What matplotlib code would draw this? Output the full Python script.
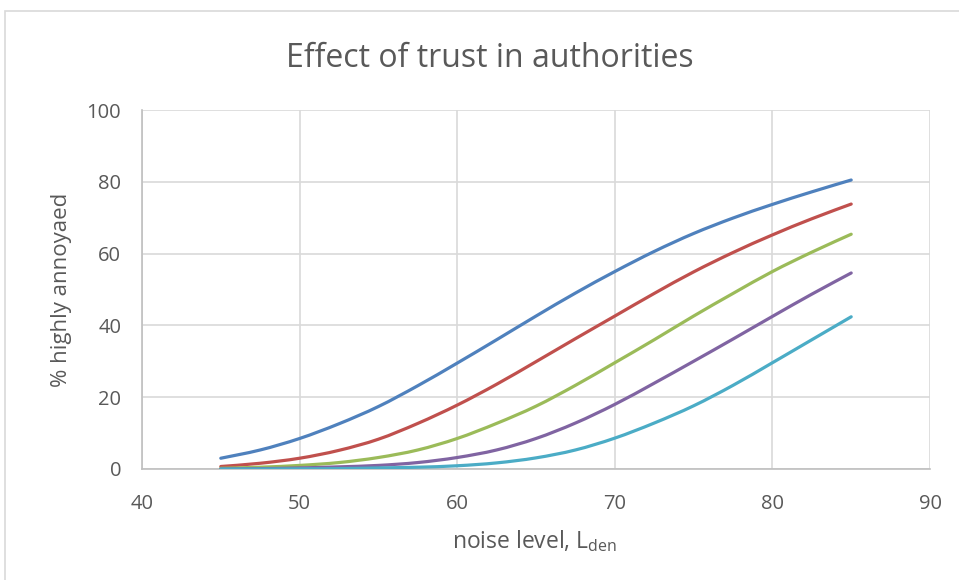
import matplotlib.pyplot as plt
from matplotlib.patches import Rectangle, PathPatch
from matplotlib.path import Path

# noise level (L_den), read every 2.5 dB
noise = [45, 47.5, 50, 52.5, 55, 57.5, 60, 62.5, 65, 67.5, 70, 72.5, 75, 77.5, 80, 82.5, 85]

# % highly annoyed, one series per trust level
trust_1 = [3.0, 5.3, 8.5, 12.6, 17.4, 23.2, 29.5, 36.0, 42.6, 49.0, 55.0, 60.6, 65.6, 69.9, 73.7, 77.2, 80.5]
trust_2 = [0.7, 1.6, 3.0, 5.2, 8.3, 12.7, 17.8, 23.6, 29.9, 36.3, 42.6, 48.9, 54.9, 60.3, 65.2, 69.7, 73.8]
trust_3 = [0.2, 0.5, 1.0, 1.8, 3.2, 5.3, 8.5, 12.7, 17.5, 23.3, 29.6, 36.0, 42.6, 48.9, 55.0, 60.4, 65.4]
trust_4 = [0.0, 0.1, 0.3, 0.6, 1.0, 1.8, 3.2, 5.3, 8.5, 12.8, 18.0, 23.9, 30.0, 36.2, 42.5, 48.7, 54.6]
trust_5 = [0.0, 0.0, 0.05, 0.1, 0.3, 0.5, 0.9, 1.7, 3.1, 5.3, 8.6, 12.8, 17.6, 23.3, 29.6, 36.0, 42.4]

series = [trust_1, trust_2, trust_3, trust_4, trust_5]
colors = ["#4F81BD", "#C0504D", "#9BBB59", "#8064A2", "#4BACC6"]


def smooth_path(xs, ys):
    """Excel-like smoothed line: Catmull-Rom segments drawn as cubic Bezier curves"""
    pts = list(zip(xs, ys))
    verts = [pts[0]]
    codes = [Path.MOVETO]
    for i in range(len(pts) - 1):
        p0 = pts[max(i - 1, 0)]
        p1 = pts[i]
        p2 = pts[i + 1]
        p3 = pts[min(i + 2, len(pts) - 1)]
        c1 = (p1[0] + (p2[0] - p0[0]) / 6, p1[1] + (p2[1] - p0[1]) / 6)
        c2 = (p2[0] - (p3[0] - p1[0]) / 6, p2[1] - (p3[1] - p1[1]) / 6)
        verts += [c1, c2, p2]
        codes += [Path.CURVE4] * 3
    return Path(verts, codes)


plt.rcParams['font.family'] = ['Open Sans', 'DejaVu Sans']

fig = plt.figure(figsize=(9.59, 5.8), dpi=100)
ax = fig.add_axes([142 / 959, 1 - 469 / 580, (930 - 142) / 959, (469 - 110) / 580])

# chart frame like the Excel chart area
fig.patches.append(Rectangle((5 / 959, -0.1), 1.2, 1.1 - 11 / 580, transform=fig.transFigure,
                             fill=False, edgecolor="#D9D9D9", linewidth=1.2))

for vals, c in zip(series, colors):
    ax.add_patch(PathPatch(smooth_path(noise, vals), fill=False, edgecolor=c,
                           linewidth=2.3, capstyle='round', zorder=3))

ax.set_xlim(40, 90)
ax.set_ylim(0, 100)
ax.set_xticks(range(40, 91, 10))
ax.set_yticks(range(0, 101, 20))
ax.grid(True, color="#D9D9D9", linewidth=1.2)
ax.set_axisbelow(True)
for s in ["top", "right"]:
    ax.spines[s].set_visible(False)
for s in ["left", "bottom"]:
    ax.spines[s].set_color("#BFBFBF")
    ax.spines[s].set_linewidth(1.2)
ax.tick_params(length=0, labelsize=14.5, labelcolor="#595959")
ax.tick_params(axis='x', pad=18)
ax.tick_params(axis='y', pad=15)

fig.text(490 / 959, 1 - 67 / 580, "Effect of trust in authorities", ha='center', va='baseline',
         fontsize=23, color="#595959")
fig.text(62 / 959, 1 - 290 / 580, "% highly annoyaed", rotation=90, ha='center', va='center',
         fontsize=16, color="#595959")
fig.text(535 / 959, 1 - 548 / 580, r"noise level, L$_{\mathregular{den}}$", ha='center', va='baseline',
         fontsize=16.5, color="#595959")

fig.savefig("out.png", dpi=100)
